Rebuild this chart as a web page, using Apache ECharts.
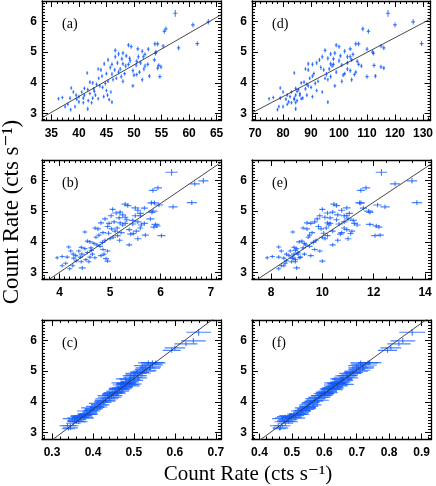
<!DOCTYPE html>
<html>
<head>
<meta charset="utf-8">
<script src="https://cdn.jsdelivr.net/npm/echarts@6/dist/echarts.min.js"></script>
<style>
  html, body { margin: 0; padding: 0; background: #fff; }
  #chart { width: 436px; height: 486px; }
</style>
</head>
<body>
<div id="chart"></div>
<script>
// common y quantity (same for all six panels)
const yVals = [
  6.27, 5.89, 5.99, 5.76, 5.68, 5.28, 5.14, 5.27, 5.27, 5.20,
  5.23, 5.18, 5.11, 5.10, 5.06, 5.00, 4.96, 5.03, 4.94, 4.97,
  4.93, 4.85, 4.88, 4.80, 4.78, 4.85, 4.75, 4.70, 4.75, 4.65,
  4.58, 4.60, 4.65, 4.60, 4.62, 4.45, 4.50, 4.57, 4.52, 4.48,
  4.55, 4.55, 4.42, 4.35, 4.30, 4.40, 4.35, 4.45, 4.22, 4.20,
  4.27, 4.28, 4.30, 4.22, 4.32, 4.20, 3.90, 4.05, 4.10, 4.05,
  4.15, 4.00, 4.02, 3.98, 4.15, 3.95, 4.10, 3.82, 3.78, 3.70,
  3.80, 3.85, 3.75, 3.70, 3.60, 3.83, 3.70, 3.60, 3.55, 3.60,
  3.65, 3.60, 3.50, 3.47, 3.50, 3.42, 3.50, 3.55, 3.48, 3.52,
  3.45, 3.37, 3.30, 3.12, 3.22, 3.35, 3.15, 3.22, 3.35, 3.38,
  3.48, 4.42, 4.45, 4.25, 3.72, 3.90, 4.62, 4.85, 4.60, 4.72
];
const yErr = [
  .11, .08, .09, .08, .08, .08, .08, .08, .08, .07,
  .07, .07, .07, .07, .07, .07, .07, .07, .07, .07,
  .07, .07, .07, .07, .07, .07, .07, .07, .07, .07,
  .07, .07, .07, .07, .07, .06, .07, .07, .07, .07,
  .07, .07, .06, .07, .06, .07, .06, .07, .07, .07,
  .06, .07, .06, .06, .06, .07, .06, .07, .06, .06,
  .06, .06, .06, .07, .06, .06, .07, .06, .06, .06,
  .06, .06, .06, .06, .06, .06, .06, .06, .06, .06,
  .06, .06, .06, .06, .06, .06, .06, .06, .06, .06,
  .06, .06, .06, .06, .06, .06, .07, .06, .06, .06,
  .06, .07, .07, .07, .06, .06, .07, .07, .07, .07
];

// panel (a)
const xA = [
  57.5, 60.7, 63.5, 55.8, 55.5, 61.5, 58.1, 53.8, 54.3, 55.3,
  49.0, 49.5, 50.7, 52.6, 46.6, 54.0, 53.9, 51.5, 47.2, 48.0,
  52.0, 51.7, 48.6, 49.2, 47.8, 46.6, 45.3, 50.5, 53.7, 51.2,
  50.4, 49.0, 47.0, 46.0, 44.6, 43.5, 45.7, 54.5, 54.9, 54.3,
  52.0, 48.5, 46.5, 47.2, 48.3, 49.8, 51.0, 51.8, 52.8, 54.7,
  50.5, 46.0, 45.0, 44.2, 41.5, 47.7, 49.8, 48.0, 46.2, 45.3,
  43.6, 42.5, 42.0, 44.8, 46.8, 43.2, 51.5, 41.0, 41.6, 40.5,
  42.7, 44.3, 45.0, 45.8, 45.2, 38.6, 39.0, 39.5, 40.0, 41.0,
  42.0, 43.0, 40.8, 39.6, 38.4, 41.7, 42.5, 44.5, 36.3, 37.0,
  45.5, 46.0, 38.0, 38.5, 39.3, 40.8, 41.6, 37.5, 42.3, 40.0,
  43.5, 44.0, 47.5, 50.0, 42.8, 43.8, 48.0, 50.8, 52.5, 49.3
];
const xErrA = [
  .40, .35, .35, .30, .30, .35, .30, .30, .30, .30,
  .25, .25, .30, .25, .25, .30, .25, .25, .25, .25,
  .25, .25, .25, .25, .25, .25, .20, .25, .30, .25,
  .25, .25, .20, .20, .20, .20, .20, .30, .25, .25,
  .25, .25, .20, .20, .25, .25, .25, .25, .25, .30,
  .25, .20, .20, .20, .20, .20, .25, .25, .20, .20,
  .20, .20, .20, .20, .20, .20, .25, .20, .20, .20,
  .20, .20, .20, .20, .20, .20, .20, .20, .20, .20,
  .20, .20, .20, .20, .20, .20, .20, .20, .20, .20,
  .20, .20, .20, .20, .20, .20, .20, .20, .20, .20,
  .20, .20, .25, .25, .20, .20, .25, .25, .25, .25
];

// panel (b)
const xB = [
  6.22, 6.68, 6.85, 5.95, 5.85, 6.62, 6.25, 5.82, 5.88, 5.97,
  5.30, 5.35, 5.50, 5.68, 5.05, 5.85, 5.83, 5.55, 5.12, 5.20,
  5.60, 5.60, 5.25, 5.30, 5.18, 5.02, 4.90, 5.45, 5.80, 5.55,
  5.45, 5.30, 5.08, 4.98, 4.82, 4.70, 4.95, 5.90, 5.93, 5.87,
  5.62, 5.25, 5.03, 5.10, 5.22, 5.38, 5.52, 5.60, 5.70, 6.02,
  5.46, 4.97, 4.86, 4.78, 4.50, 5.15, 5.38, 5.19, 5.00, 4.90,
  4.72, 4.60, 4.55, 4.85, 5.06, 4.68, 5.55, 4.43, 4.50, 4.38,
  4.62, 4.80, 4.86, 4.95, 4.88, 4.18, 4.22, 4.27, 4.32, 4.44,
  4.55, 4.65, 4.41, 4.28, 4.15, 4.52, 4.60, 4.82, 3.95, 4.05,
  4.92, 4.95, 4.12, 4.20, 4.26, 4.43, 4.45, 4.05, 4.58, 4.33,
  4.70, 4.76, 5.14, 5.41, 4.63, 4.74, 5.20, 5.50, 5.68, 5.33
];
const xErrB = [
  .12, .10, .10, .08, .08, .10, .09, .08, .09, .08,
  .07, .07, .08, .07, .06, .09, .07, .07, .08, .06,
  .07, .06, .07, .06, .07, .06, .06, .07, .08, .07,
  .07, .06, .06, .06, .06, .05, .06, .08, .07, .07,
  .07, .06, .06, .06, .07, .06, .07, .06, .07, .08,
  .06, .06, .06, .05, .05, .06, .06, .06, .06, .05,
  .05, .06, .05, .06, .06, .05, .07, .05, .05, .05,
  .05, .06, .06, .06, .05, .05, .05, .05, .05, .06,
  .05, .05, .05, .05, .05, .05, .05, .06, .04, .05,
  .06, .06, .05, .05, .05, .05, .07, .05, .05, .05,
  .05, .06, .06, .07, .05, .05, .06, .07, .07, .06
];

// panel (c)
const xC = [
  .658, .627, .645, .600, .592, .545, .540, .553, .535, .545,
  .545, .520, .528, .538, .522, .525, .515, .530, .520, .508,
  .505, .510, .500, .498, .510, .492, .480, .500, .490, .487,
  .495, .478, .490, .475, .470, .462, .478, .485, .490, .475,
  .468, .480, .460, .470, .458, .465, .455, .472, .445, .450,
  .448, .460, .448, .440, .452, .435, .415, .430, .440, .425,
  .445, .420, .432, .425, .438, .410, .430, .410, .402, .398,
  .395, .405, .400, .392, .390, .415, .385, .380, .375, .388,
  .392, .385, .372, .378, .368, .362, .380, .372, .355, .365,
  .350, .358, .352, .340, .345, .360, .345, .338, .365, .355,
  .370, .465, .470, .442, .395, .418, .485, .502, .482, .490
];
const xErrC = [
  .030, .028, .030, .025, .022, .028, .026, .024, .025, .026,
  .022, .020, .024, .026, .020, .028, .022, .025, .021, .018,
  .026, .022, .020, .024, .022, .020, .024, .022, .026, .020,
  .024, .020, .022, .018, .025, .022, .020, .028, .024, .022,
  .020, .024, .022, .018, .020, .026, .022, .024, .020, .022,
  .024, .020, .022, .018, .020, .024, .020, .026, .022, .020,
  .024, .018, .022, .020, .026, .020, .024, .018, .022, .020,
  .024, .022, .020, .018, .022, .020, .024, .018, .020, .022,
  .018, .022, .020, .024, .018, .022, .020, .026, .018, .020,
  .024, .020, .018, .016, .020, .022, .018, .020, .022, .018,
  .020, .022, .024, .020, .018, .022, .020, .026, .022, .024
];

// panel (d)
const xD = [
  117.5, 120.0, 126.5, 108.5, 110.5, 129.5, 116.0, 107.0, 106.0, 115.0,
  99.0, 100.0, 104.0, 110.0, 95.0, 112.0, 112.3, 102.0, 97.0, 98.5,
  105.0, 104.0, 100.5, 96.0, 98.0, 94.0, 93.0, 106.5, 104.5, 103.0,
  101.0, 98.0, 92.0, 90.5, 89.0, 88.0, 93.5, 112.5, 115.0, 116.0,
  108.0, 97.5, 94.5, 99.0, 102.0, 104.0, 106.0, 103.0, 113.0, 110.0,
  105.5, 95.5, 91.0, 90.5, 84.0, 97.0, 98.5, 101.0, 96.0, 92.5,
  89.5, 86.5, 87.5, 91.5, 95.0, 88.5, 104.5, 84.5, 85.5, 83.0,
  88.0, 90.0, 92.0, 94.0, 86.0, 79.0, 80.0, 81.5, 82.5, 84.5,
  86.0, 88.5, 84.0, 81.0, 79.0, 85.0, 87.0, 90.5, 75.0, 76.5,
  84.0, 96.0, 81.5, 78.0, 78.5, 84.5, 84.5, 80.0, 83.0, 82.0,
  86.5, 89.0, 96.5, 101.5, 85.0, 89.0, 97.0, 103.0, 107.0, 100.0
];
const xErrD = [
  .8, .7, .7, .6, .6, .7, .6, .6, .6, .6,
  .5, .5, .6, .5, .5, .6, .5, .5, .5, .5,
  .5, .5, .5, .5, .5, .5, .4, .5, .6, .5,
  .5, .5, .4, .4, .4, .4, .4, .6, .5, .5,
  .5, .5, .4, .4, .5, .5, .5, .5, .5, .6,
  .5, .4, .4, .4, .4, .4, .5, .5, .4, .4,
  .4, .4, .4, .4, .4, .4, .5, .4, .4, .4,
  .4, .4, .4, .4, .4, .4, .4, .4, .4, .4,
  .4, .4, .4, .4, .4, .4, .4, .4, .4, .4,
  .4, .4, .4, .4, .4, .4, .4, .4, .4, .4,
  .4, .4, .5, .5, .4, .4, .5, .5, .5, .5
];

// panel (e)
const xE = [
  12.30, 12.83, 13.49, 11.70, 11.50, 13.68, 12.44, 11.50, 11.45, 12.15,
  10.45, 10.55, 10.95, 11.60, 10.00, 11.80, 11.85, 10.75, 10.20, 10.40,
  11.05, 10.95, 10.60, 10.10, 10.30, 9.90, 9.80, 11.20, 11.00, 10.85,
  10.65, 10.30, 9.70, 9.55, 9.40, 9.25, 9.85, 11.85, 12.10, 12.20,
  11.35, 10.25, 9.95, 10.40, 10.75, 10.95, 11.15, 10.85, 12.25, 12.05,
  11.10, 10.05, 9.60, 9.50, 8.85, 10.20, 10.40, 10.60, 10.10, 9.75,
  9.45, 9.10, 9.20, 9.65, 10.00, 9.30, 11.00, 8.90, 9.00, 8.75,
  9.25, 9.50, 9.70, 9.90, 9.05, 8.30, 8.40, 8.60, 8.70, 8.90,
  9.05, 9.30, 8.85, 8.50, 8.30, 8.95, 9.15, 9.55, 7.85, 8.05,
  8.85, 10.00, 8.55, 8.30, 8.40, 8.95, 9.00, 8.50, 8.80, 8.60,
  9.10, 9.40, 10.15, 10.70, 8.95, 9.35, 10.20, 10.85, 11.25, 10.55
];
const xErrE = [
  .22, .20, .20, .16, .16, .20, .18, .16, .17, .16,
  .14, .14, .15, .14, .12, .17, .14, .14, .15, .12,
  .14, .12, .14, .12, .13, .12, .12, .14, .15, .13,
  .14, .12, .12, .12, .12, .10, .12, .15, .14, .14,
  .14, .12, .12, .12, .13, .12, .13, .12, .14, .15,
  .12, .12, .12, .10, .10, .12, .12, .12, .12, .10,
  .10, .12, .10, .12, .12, .10, .13, .10, .10, .10,
  .10, .12, .12, .12, .10, .10, .10, .10, .10, .12,
  .10, .10, .10, .10, .10, .10, .10, .12, .08, .10,
  .12, .12, .10, .10, .10, .10, .13, .10, .10, .10,
  .10, .12, .12, .13, .10, .10, .12, .13, .13, .12
];

// panel (f)
const xF = [
  .871, .830, .842, .805, .795, .740, .720, .735, .712, .728,
  .712, .700, .705, .718, .700, .698, .690, .710, .685, .688,
  .680, .670, .678, .660, .675, .672, .655, .660, .652, .655,
  .645, .640, .648, .638, .632, .622, .630, .655, .640, .628,
  .625, .642, .620, .615, .600, .623, .610, .630, .600, .590,
  .598, .605, .612, .595, .600, .590, .565, .580, .575, .570,
  .582, .562, .568, .558, .585, .555, .572, .550, .545, .530,
  .540, .552, .542, .535, .525, .548, .528, .518, .512, .520,
  .528, .515, .505, .510, .490, .488, .500, .495, .472, .480,
  .470, .485, .480, .462, .470, .475, .465, .458, .490, .478,
  .498, .615, .625, .603, .532, .552, .645, .668, .638, .655
];
const xErrF = [
  .040, .036, .038, .032, .030, .036, .034, .031, .032, .034,
  .029, .026, .031, .034, .026, .036, .029, .032, .027, .024,
  .034, .029, .026, .031, .029, .026, .031, .029, .034, .026,
  .031, .026, .029, .024, .032, .029, .026, .036, .031, .029,
  .026, .031, .029, .024, .026, .034, .029, .031, .026, .029,
  .031, .026, .029, .024, .026, .031, .026, .034, .029, .026,
  .031, .024, .029, .026, .034, .026, .031, .024, .029, .026,
  .031, .029, .026, .024, .029, .026, .031, .024, .026, .029,
  .024, .029, .026, .031, .024, .029, .026, .034, .024, .026,
  .031, .026, .024, .021, .026, .029, .024, .026, .029, .024,
  .026, .029, .031, .026, .024, .029, .026, .034, .029, .031
];

// linear fits, y = slope * x + icpt  (order a, b, c, d, e, f)
const fitSlope = [0.1034, 1.12, 10.05, 0.048, 0.557, 7.66];
const fitIcpt = [-0.584, -1.472, -0.265, -0.287, -1.389, -0.322];

// tick labels
const yTicks = ['3', '4', '5', '6'];
const xTicksA = ['35', '40', '45', '50', '55', '60', '65'];
const xTicksB = ['4', '5', '6', '7'];
const xTicksC = ['0.3', '0.4', '0.5', '0.6', '0.7'];
const xTicksD = ['70', '80', '90', '100', '110', '120', '130'];
const xTicksE = ['8', '10', '12', '14'];
const xTicksF = ['0.4', '0.5', '0.6', '0.7', '0.8', '0.9'];
const panelNames = ['(a)', '(b)', '(c)', '(d)', '(e)', '(f)'];

const chart = echarts.init(document.getElementById('chart'));

const Y_MIN = 2.77, Y_MAX = 6.67;
const BLUE = 'rgba(15,90,255,0.75)';

const panels = [
  { x: xA, ex: xErrA, ticks: xTicksA, min: 33.3, max: 65.8, split: 6, minor: 5, left: 42, top: 1 },
  { x: xB, ex: xErrB, ticks: xTicksB, min: 3.65, max: 7.2, split: 4, minor: 10, left: 42, top: 160 },
  { x: xC, ex: xErrC, ticks: xTicksC, min: 0.2755, max: 0.7125, split: 4, minor: 5, left: 42, top: 320 },
  { x: xD, ex: xErrD, ticks: xTicksD, min: 68.9, max: 132.7, split: 6, minor: 5, left: 252, top: 1 },
  { x: xE, ex: xErrE, ticks: xTicksE, min: 7.26, max: 14.23, split: 4, minor: 4, left: 252, top: 160 },
  { x: xF, ex: xErrF, ticks: xTicksF, min: 0.377, max: 0.929, split: 5, minor: 5, left: 252, top: 320 }
];

const grid = [], xAxis = [], yAxis = [], series = [], graphic = [];

// shared axis look (IDL style box with inward ticks)
function axisBase(pos, showLabel, ticks) {
  return {
    type: 'value',
    position: pos,
    axisLine: { show: true, onZero: false, lineStyle: { color: '#000', width: 1.3 } },
    axisTick: { show: true, inside: true, length: 6, lineStyle: { color: '#000', width: 1 } },
    minorTick: { show: true, length: 3, lineStyle: { color: '#000', width: 1 } },
    splitLine: { show: false },
    axisLabel: {
      show: showLabel,
      color: '#000',
      fontFamily: 'Liberation Sans',
      fontWeight: 'bold',
      fontSize: 12,
      formatter: v => {
        const hit = ticks.find(t => Math.abs(parseFloat(t) - v) < 1e-6);
        return hit || '';
      }
    }
  };
}

panels.forEach((p, i) => {
  grid.push({ left: p.left, top: p.top, width: 179, height: 119.5 });

  const xb = axisBase('bottom', true, p.ticks);
  const xt = axisBase('top', false, p.ticks);
  [xb, xt].forEach(ax => {
    Object.assign(ax, { gridIndex: i, min: p.min, max: p.max, splitNumber: p.split });
    ax.minorTick.splitNumber = p.minor;
  });
  xb.axisLabel.margin = 7;
  xAxis.push(xb, xt);

  const yl = axisBase('left', true, yTicks);
  const yr = axisBase('right', false, yTicks);
  [yl, yr].forEach(ax => {
    Object.assign(ax, { gridIndex: i, min: Y_MIN, max: Y_MAX, splitNumber: 4 });
    ax.minorTick.splitNumber = 10;
  });
  yl.axisLabel.margin = 5;
  yAxis.push(yl, yr);

  // error-bar crosses
  series.push({
    type: 'custom',
    xAxisIndex: 2 * i,
    yAxisIndex: 2 * i,
    clip: true,
    data: p.x.map((x, k) => [x, yVals[k], p.ex[k], yErr[k]]),
    renderItem: (params, api) => {
      const x = api.value(0), y = api.value(1), ex = api.value(2), ey = api.value(3);
      const l = api.coord([x - ex, y]), r = api.coord([x + ex, y]);
      const t = api.coord([x, y + ey]), b = api.coord([x, y - ey]);
      const st = { stroke: BLUE, lineWidth: 1.15 };
      return {
        type: 'group',
        children: [
          { type: 'line', shape: { x1: l[0], y1: l[1], x2: r[0], y2: r[1] }, style: st },
          { type: 'line', shape: { x1: t[0], y1: t[1], x2: b[0], y2: b[1] }, style: st }
        ]
      };
    }
  });

  // fitted line across the panel
  series.push({
    type: 'line',
    xAxisIndex: 2 * i,
    yAxisIndex: 2 * i,
    clip: true,
    symbol: 'none',
    silent: true,
    lineStyle: { color: '#333', width: 0.9 },
    data: [p.min, p.max].map(x => [x, fitSlope[i] * x + fitIcpt[i]]),
    z: 3
  });

  graphic.push({
    type: 'text',
    left: p.left + 20,
    top: p.top + 16,
    style: { text: panelNames[i], font: '14px "Liberation Serif"', fill: '#000' }
  });
});

// axis titles
graphic.push({
  type: 'text',
  x: 248, y: 474,
  style: {
    text: 'Count Rate (cts s⁻¹)',
    font: '21px "Liberation Serif", "DejaVu Serif"',
    fill: '#000', align: 'center', verticalAlign: 'middle'
  }
});
graphic.push({
  type: 'text',
  x: 12, y: 212,
  rotation: Math.PI / 2,
  style: {
    text: 'Count Rate (cts s⁻¹)',
    font: '23px "Liberation Serif", "DejaVu Serif"',
    fill: '#000', align: 'center', verticalAlign: 'middle'
  }
});

chart.setOption({
  animation: false,
  backgroundColor: '#fff',
  grid: grid,
  xAxis: xAxis,
  yAxis: yAxis,
  series: series,
  graphic: graphic
});
</script>
</body>
</html>
